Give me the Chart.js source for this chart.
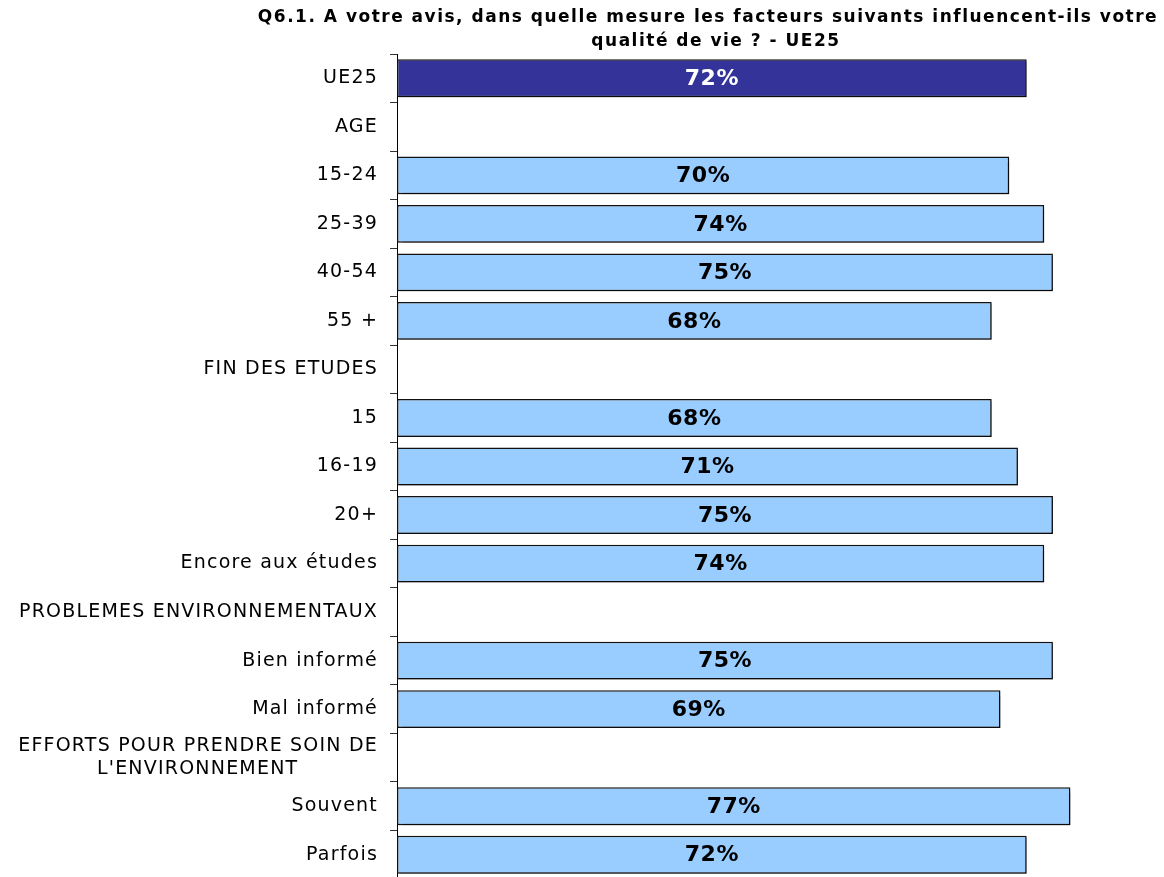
<!DOCTYPE html>
<html>
<head>
    <title>Q6.1 - UE25</title>
    <style>
        body { margin: 0; overflow: hidden; background: #fff; }
        .chart-container { width: 1164px; height: 877px; overflow: hidden; }
    </style>
    <script src="https://cdn.jsdelivr.net/npm/chart.js"></script>
</head>
<body>
    <div class="chart-container">
        <canvas id="chart1" width="1164" height="910"></canvas>
    </div>
    <script>
        const titleLines = ['Q6.1. A votre avis, dans quelle mesure les facteurs suivants influencent-ils votre', 'qualité de vie ? - UE25'];

        const categories = [
            'UE25', 'AGE', '15-24', '25-39', '40-54', '55 +',
            'FIN DES ETUDES', '15', '16-19', '20+', 'Encore aux études',
            'PROBLEMES ENVIRONNEMENTAUX', 'Bien informé', 'Mal informé',
            ['EFFORTS POUR PRENDRE SOIN DE', "L'ENVIRONNEMENT           "],
            'Souvent', 'Parfois'
        ];
        const values = [72, null, 70, 74, 75, 68, null, 68, 71, 75, 74, null, 75, 69, null, 77, 72];
        const barColors = values.map((v, i) => i === 0 ? '#333399' : '#99CCFF');
        const labelColors = values.map((v, i) => i === 0 ? '#FFFFFF' : '#000000');

        const font = "'DejaVu Sans', Verdana, sans-serif";

        // title drawn by hand so it can sit off-centre like the original
        const titlePlugin = {
            id: 'titleLines',
            beforeDraw(chart) {
                // wider spacing for the axis labels (Verdana look)
                chart.ctx.letterSpacing = '1.2px';
            },
            afterDraw(chart) {
                const ctx = chart.ctx;
                ctx.save();
                ctx.letterSpacing = '1.5px';
                ctx.font = 'bold 17px ' + font;
                ctx.fillStyle = '#000';
                ctx.textAlign = 'center';
                ctx.textBaseline = 'middle';
                ctx.fillText(titleLines[0], 708, 18);
                ctx.fillText(titleLines[1], 716, 42);
                ctx.restore();
                ctx.letterSpacing = '0px';
            }
        };

        const shadowPlugin = {
            id: 'barShadow',
            beforeDatasetsDraw(chart) {
                const ctx = chart.ctx;
                ctx.save();
                ctx.shadowColor = 'rgba(0,0,0,0.35)';
                ctx.shadowOffsetX = 2;
                ctx.shadowOffsetY = 2;
                ctx.shadowBlur = 1;
            },
            afterDatasetsDraw(chart) {
                chart.ctx.restore();
            }
        };

        const valueLabels = {
            id: 'valueLabels',
            afterDatasetsDraw(chart) {
                const ctx = chart.ctx;
                const meta = chart.getDatasetMeta(0);
                ctx.save();
                ctx.letterSpacing = '0.5px';
                ctx.font = 'bold 22px ' + font;
                ctx.textAlign = 'center';
                ctx.textBaseline = 'middle';
                meta.data.forEach((bar, i) => {
                    if (values[i] === null) return;
                    ctx.fillStyle = labelColors[i];
                    ctx.fillText(values[i] + '%', (bar.base + bar.x) / 2, bar.y + 1);
                });
                ctx.restore();
            }
        };

        const ctx1 = document.getElementById('chart1').getContext('2d');

        const chart1 = new Chart(ctx1, {
            type: 'bar',
            data: {
                labels: categories,
                datasets: [{
                    data: values,
                    backgroundColor: barColors,
                    borderColor: '#111111',
                    borderWidth: 1.5,
                    borderSkipped: false,
                    barPercentage: 0.78,
                    categoryPercentage: 1.0
                }]
            },
            options: {
                indexAxis: 'y',
                responsive: false,
                animation: false,
                layout: {
                    padding: { top: 54, bottom: 31, left: 0, right: 0 }
                },
                plugins: {
                    legend: { display: false },
                    title: { display: false },
                    tooltip: { enabled: false }
                },
                scales: {
                    x: {
                        display: false,
                        min: 0,
                        max: 87.7
                    },
                    y: {
                        afterFit(scale) { scale.width = 397; },
                        grid: {
                            offset: true,
                            drawOnChartArea: false,
                            drawTicks: true,
                            tickLength: 7,
                            color: '#333333'
                        },
                        border: { display: true, color: '#000000', width: 1 },
                        ticks: {
                            autoSkip: false,
                            padding: 12,
                            color: '#000000',
                            font: { family: font, size: 19 }
                        }
                    }
                }
            },
            plugins: [titlePlugin, shadowPlugin, valueLabels]
        });
    </script>
</body>
</html>
